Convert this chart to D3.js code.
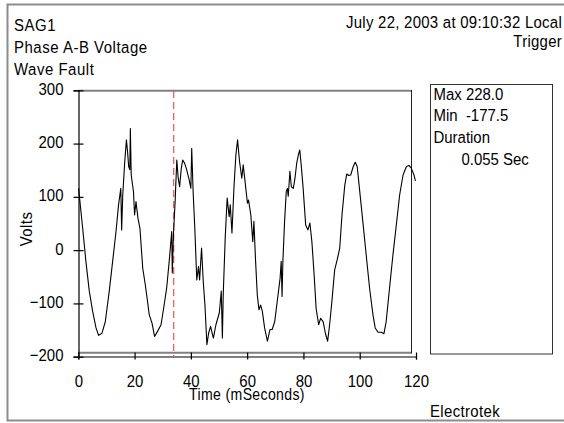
<!DOCTYPE html>
<html><head><meta charset="utf-8">
<script src="https://cdn.jsdelivr.net/npm/d3@7"></script>
<style>
html,body{margin:0;padding:0;background:#fff;}
svg{display:block;font-family:"Liberation Sans",Arial,sans-serif;}
</style></head>
<body>
<svg id="c" width="564" height="423"></svg>
<script>
// ---- data ----
const timeMs = [0.1,1.55,2.7,3.9,5.1,6.3,7.2,8.4,9.6,11.0,
12.2,13.4,14.3,15.1,15.4,15.8,16.5,17.1,17.5,17.9,
18.3,18.5,18.8,19.6,20.0,20.5,21.2,21.9,22.9,23.8,
24.6,25.2,26.2,27.1,28.2,29.4,30.3,31.4,32.3,33.2,
33.4,33.8,34.4,35.0,35.5,36.0,36.6,37.1,37.8,38.5,
39.4,40.0,40.3,40.8,41.4,42.1,42.7,43.1,43.8,44.4,
45.0,45.7,46.3,47.0,48.0,48.9,50.1,50.8,51.2,51.5,
52.2,52.9,53.6,54.0,54.6,55.3,56.0,56.6,57.3,58.1,
58.6,59.4,60.1,60.5,61.3,62.0,62.4,63.0,63.6,64.2,
64.8,65.4,66.2,67.2,68.1,68.9,69.8,70.7,71.7,72.1,
72.4,72.7,73.3,73.9,74.3,74.6,75.2,75.7,76.4,77.0,
77.6,78.2,78.7,79.2,79.9,80.8,81.6,82.3,83.0,83.8,
84.5,85.4,86.1,87.0,87.8,88.6,89.3,90.1,91.1,92.0,
92.9,93.7,94.7,95.4,96.1,96.8,97.7,98.4,99.1,99.9,
101.1,102.3,103.5,104.7,105.5,106.5,107.7,108.6,109.4,110.6,
111.8,113.0,114.2,115.4,116.6,117.5,118.3,119.3,119.8];
const volts = [116,41,-21,-77,-115,-146,-160,-156,-134,-77,
-21,35,85,116,38,104,166,207,185,157,
151,228,141,110,66,91,60,41,-34,-65,
-96,-121,-137,-162,-152,-140,-110,-71,-21,35,
-43,29,91,169,135,119,154,169,163,151,
132,116,191,110,41,-56,-31,-56,4,-59,
-103,-177.5,-156,-143,-165,-140,-118,-77,-165,-84,
23,98,63,85,32,116,179,207,166,135,
160,122,88,94,66,16,54,-21,-84,-112,
-103,-115,-146,-171,-149,-149,-134,-96,-53,-21,
-87,-21,54,110,116,101,148,119,116,135,
163,179,188,160,116,47,38,51,16,-46,
-109,-140,-128,-134,-156,-171,-140,-97,-37,-18,
4,66,122,143,140,141,157,165,157,116,
54,-9,-71,-121,-146,-154,-154,-157,-134,-71,
-9,47,104,141,157,159,154,141,130];
const xTicks = [0,20,40,60,80,100,120];
const yTicks = [-200,-100,0,100,200,300];
const triggerMs = 33.9;
const titleLeft = ["SAG1","Phase A-B Voltage","Wave Fault"];
const titleRight = ["July 22, 2003 at 09:10:32 Local","Trigger"];
const infoLines = ["Max 228.0","Min  -177.5","Duration","0.055 Sec"];

// ---- drawing ----
const svg = d3.select("#c");
const SX = 0.88;
const x = d3.scaleLinear().domain([0,120]).range([78.3,416]);
const y = d3.scaleLinear().domain([-200,300]).range([356.7,90.3]);

function txt(px, py, s, opt={}) {
  const t = svg.append("text")
    .attr("transform", `translate(${px},${py}) rotate(${opt.rotate||0}) scale(${opt.sx||SX},1)`)
    .attr("text-anchor", opt.anchor||"start")
    .style("font-size", (opt.size||17)+"px")
    .style("letter-spacing", (opt.ls||0)+"px")
    .attr("fill","#000")
    .style("white-space","pre")
    .text(s);
  return t;
}

// outer frame
svg.append("rect").attr("x",7.5).attr("y",4.5).attr("width",570).attr("height",416)
  .attr("fill","none").attr("stroke","#8c8c8c").attr("stroke-width",2);

// plot box
svg.append("line").attr("x1",78.3).attr("x2",411.5).attr("y1",90.8).attr("y2",90.8)
  .attr("stroke","#808080").attr("stroke-width",2);
svg.append("line").attr("x1",78.3).attr("x2",411.5).attr("y1",352.8).attr("y2",352.8)
  .attr("stroke","#808080").attr("stroke-width",2);
svg.append("line").attr("x1",411.5).attr("x2",411.5).attr("y1",90).attr("y2",353.5)
  .attr("stroke","#222").attr("stroke-width",1);

// info box
svg.append("rect").attr("x",430.5).attr("y",84.5).attr("width",122).attr("height",269.5)
  .attr("fill","none").attr("stroke","#333").attr("stroke-width",1);

// axes
const yAxis = d3.axisLeft(y).tickValues(yTicks).tickSizeOuter(0).tickSize(5).tickFormat(d3.format("d"));
const gy = svg.append("g").attr("transform","translate(78.5,0)").call(yAxis);
gy.select(".domain").attr("stroke","#000").attr("stroke-width",1.2);
gy.selectAll(".tick line").attr("x1",5).attr("x2",-5).attr("stroke","#000").attr("stroke-width",1.2);
gy.selectAll(".tick text").attr("x",-15/SX).attr("dy",null).attr("y",4)
  .attr("transform",`scale(${SX},1)`).style("font-size","17px")
  .style("font-family","'Liberation Sans',Arial,sans-serif").attr("fill","#000");

const xAxis = d3.axisBottom(x).tickValues(xTicks).tickSizeOuter(0).tickSize(3).tickFormat(d3.format("d"));
const gx = svg.append("g").attr("transform","translate(0,356.5)").call(xAxis);
gx.select(".domain").attr("stroke","#000").attr("stroke-width",1.2);
gx.selectAll(".tick line").attr("y1",-4).attr("y2",3).attr("stroke","#000").attr("stroke-width",1.2);
gx.selectAll(".tick text").attr("y",30.5).attr("dy",null)
  .attr("transform",`scale(${SX},1)`).style("font-size","17px")
  .style("font-family","'Liberation Sans',Arial,sans-serif").attr("fill","#000");

// trigger line
svg.append("line").attr("x1",x(triggerMs)).attr("x2",x(triggerMs)).attr("y1",91).attr("y2",356)
  .attr("stroke","#f05050").attr("stroke-width",1.2).attr("stroke-dasharray","7,4");

// waveform
const pts = d3.zip(timeMs, volts);
svg.append("path").datum(pts)
  .attr("d", d3.line().x(d=>x(d[0])).y(d=>y(d[1])))
  .attr("fill","none").attr("stroke","#000").attr("stroke-width",1.1).attr("stroke-linejoin","round");

// titles
const leftBase = [31,53,75];
titleLeft.forEach((s,i)=>txt(14, leftBase[i], s, {ls:0.6}));
const rightBase = [27.5,47];
titleRight.forEach((s,i)=>txt(562, rightBase[i], s, {anchor:"end", ls:0.3}));

// info text
const infoBase = [99.5,121,143,164.5];
const infoX = [433.5,433.5,433.5,461.5];
infoLines.forEach((s,i)=>txt(infoX[i], infoBase[i], s));

// axis titles
txt(31.5, 229, "Volts", {rotate:-90, anchor:"middle", size:17, ls:0.5});
txt(247, 400, "Time (mSeconds)", {anchor:"middle", size:16, ls:0.4});
txt(430, 417, "Electrotek", {ls:0.4});
</script>
</body></html>
